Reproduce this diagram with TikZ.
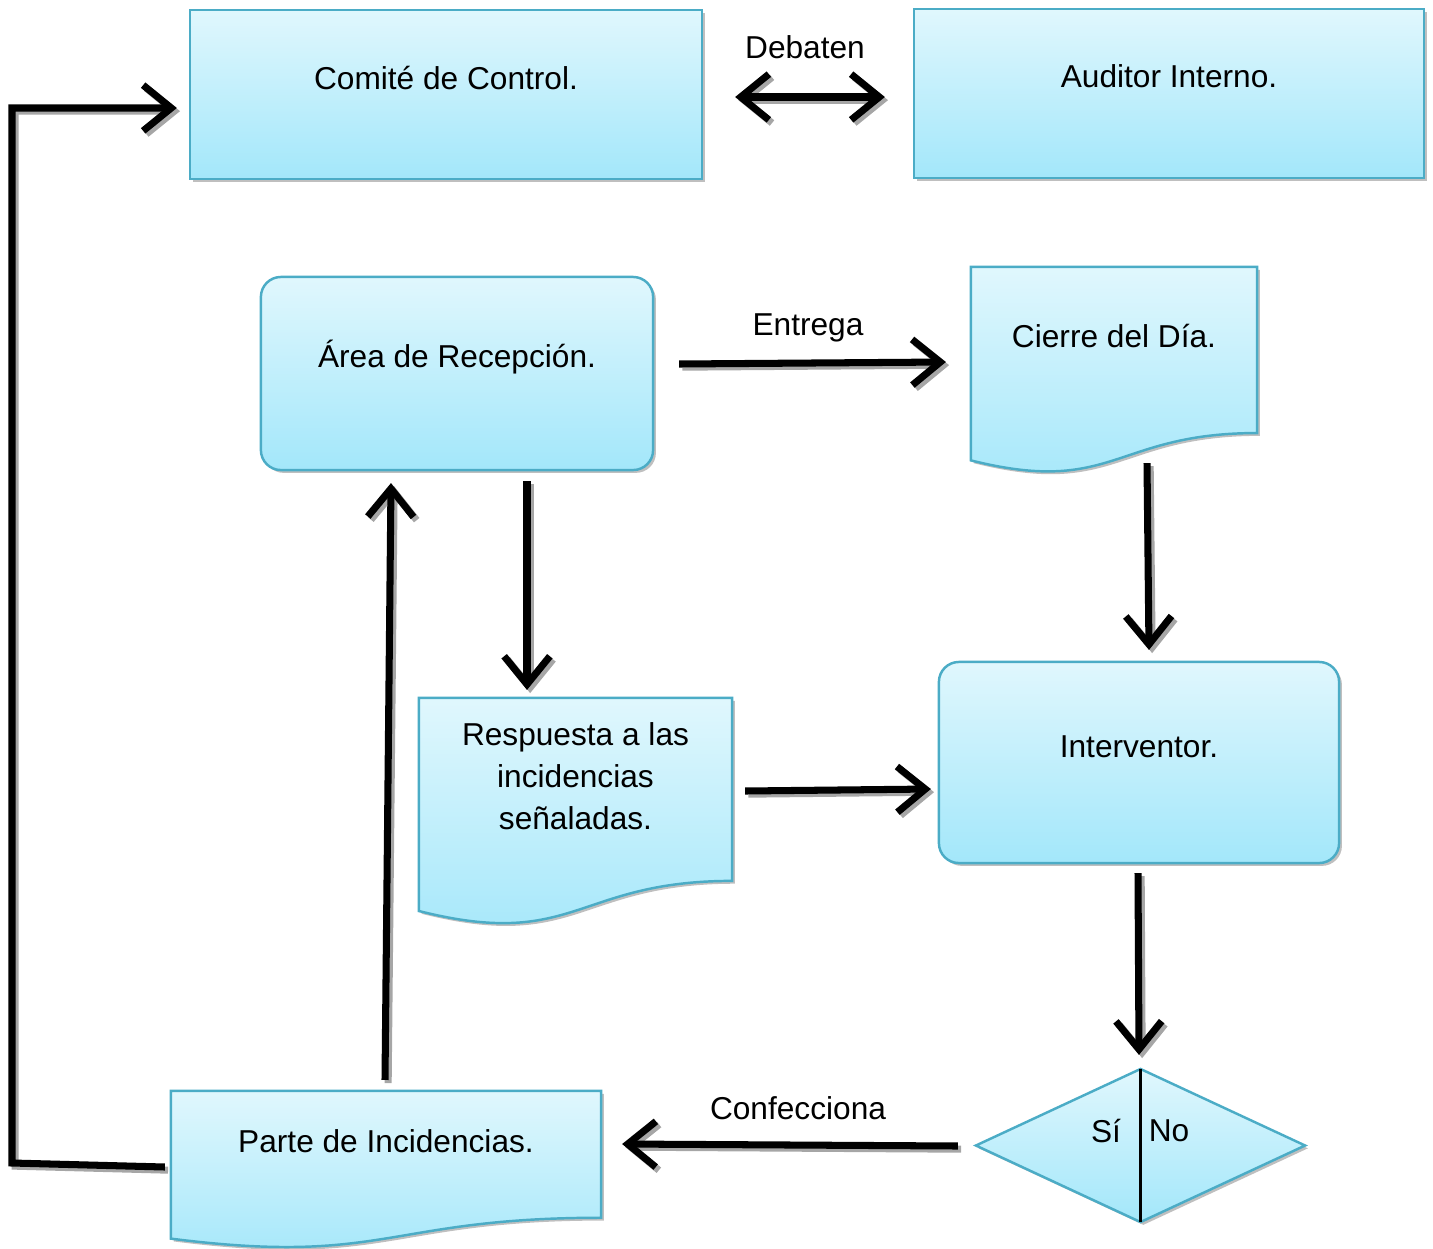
\documentclass[tikz,border=0pt]{standalone}
\usepackage{fontspec}
\setmainfont{Liberation Sans}
\usetikzlibrary{arrows.meta,calc,shadows}
\definecolor{boxline}{HTML}{4BACC6}
\definecolor{boxtop}{HTML}{E0F7FD}
\definecolor{boxbot}{HTML}{A3E7FA}
\newcommand{\docshape}[1]{%
  \path[box] (#1.north west) -- (#1.north east)
    -- ($(#1.north east)!0.802!(#1.south east)$)
    .. controls ($(#1.north)!0.802!(#1.south)$) and ($(#1.north)!1.107!(#1.south)$)
    .. ($(#1.north west)!0.934!(#1.south west)$) -- cycle;}
\newcommand{\flowarrow}[2][]{%
  \draw[flow,#1,draw=black!35,transform canvas={shift={(0.9pt,-0.9pt)}}] #2;
  \draw[flow,#1] #2;}

\begin{document}
\begin{tikzpicture}[x=0.01cm,y=-0.01cm,font=\fontsize{9}{12}\selectfont,
  box/.style={draw=boxline,line width=0.7pt,top color=boxtop,bottom color=boxbot,
    drop shadow={shadow xshift=0.8pt,shadow yshift=-0.8pt,opacity=0.5,fill=black!50}},
  frame/.style={inner sep=0pt,outer sep=0pt},
  barb/.tip={Straight Barb[length=8pt,width=13pt,line join=miter,line cap=butt]},
  flow/.style={line width=2pt,-barb}]
  \useasboundingbox (0,0) rectangle (1433,1248);
  \node[box,frame,minimum width=5.12cm,minimum height=1.69cm] (comite) at (446,94.5) {};
  \node[box,frame,minimum width=5.10cm,minimum height=1.69cm] (auditor) at (1169,93.5) {};
  \node[box,frame,rounded corners=0.2cm,minimum width=3.92cm,minimum height=1.93cm] (recep) at (457,373.5) {};
  \node[box,frame,rounded corners=0.2cm,minimum width=4.00cm,minimum height=2.01cm] (interv) at (1139,762.5) {};
  \node[frame,minimum width=2.86cm,minimum height=2.07cm] (cierre) at (1114,370.5) {};
  \node[frame,minimum width=3.13cm,minimum height=2.28cm] (resp) at (575.5,812) {};
  \node[frame,minimum width=4.30cm,minimum height=1.58cm] (parte) at (386,1170) {};
  \node[frame,minimum width=3.29cm,minimum height=1.53cm] (dec) at (1140.5,1145.5) {};
  \docshape{cierre}
  \docshape{resp}
  \docshape{parte}
  \path[box] (dec.west) -- (dec.north) -- (dec.east) -- (dec.south) -- cycle;
  \draw[line width=0.6pt] (dec.north) -- (dec.south);

  \node (comite-t) at (446,78) {Comité de Control.};
  \node (auditor-t) at (1169,76) {Auditor Interno.};
  \node (recep-t) at (457,357) {Área de Recepción.};
  \node (cierre-t) at (1114,336) {Cierre del Día.};
  \node[align=center] (resp-t) at (575.5,776) {Respuesta a las\\incidencias\\señaladas.};
  \node (interv-t) at (1139,747) {Interventor.};
  \node (parte-t) at (386,1141) {Parte de Incidencias.};
  \node (si) at (1106,1131) {Sí};
  \node (no) at (1169,1131) {No};
  \node (debaten) at (805,47) {Debaten};
  \node (entrega) at (808,328) {Entrega};
  \node (confecciona) at (798,1108) {Confecciona};

  \coordinate (loopbot) at (12,1163);
  \coordinate (looptop) at (12,108);
  \flowarrow{($(parte.west)+(-6,-3)$) -- (loopbot) -- (looptop) -- ($(comite.west)+(-13,13.5)$)}
  \flowarrow[barb-barb]{($(comite.east)+(33,2.5)$) -- ($(auditor.west)+(-29,3.5)$)}
  \flowarrow{($(recep.east)+(26,-9.5)$) -- ($(cierre.west)+(-25,-8.5)$)}
  \flowarrow{($(cierre.south)+(33,-11)$) -- ($(interv.north)+(10,-12)$)}
  \flowarrow{($(recep.south)+(70,11)$) -- ($(resp.north)+(-48.5,-8)$)}
  \flowarrow{($(resp.east)+(13,-21)$) -- ($(interv.west)+(-8,26.5)$)}
  \flowarrow{($(interv.south)+(-1,10)$) -- ($(dec.north)+(-1.5,-14)$)}
  \flowarrow{($(dec.west)+(-18,0.5)$) -- ($(parte.east)+(21,-26)$)}
  \flowarrow{($(parte.north)+(-1,-11)$) -- ($(recep.south)+(-66,13)$)}
\end{tikzpicture}
\end{document}
